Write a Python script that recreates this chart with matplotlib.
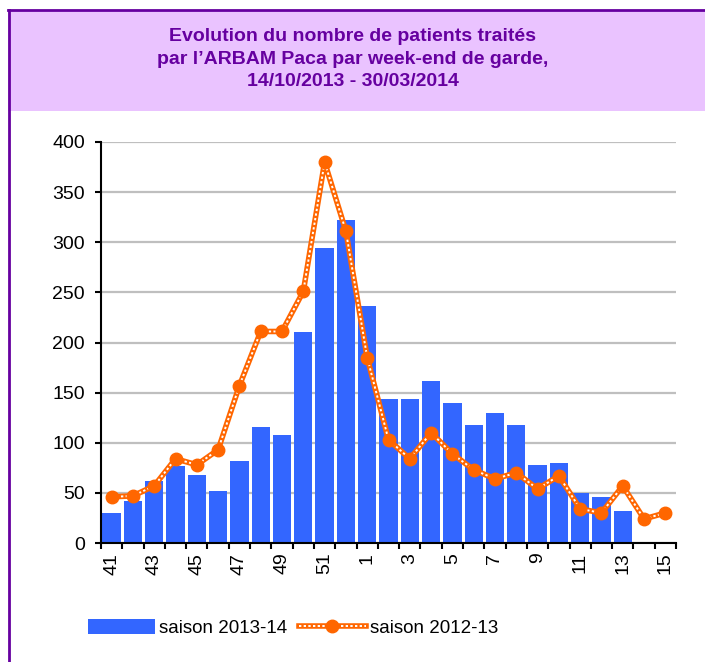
import matplotlib
matplotlib.use("Agg")
import matplotlib.pyplot as plt
import numpy as np
from matplotlib.lines import Line2D
from matplotlib.patches import Patch, Rectangle
from matplotlib.legend_handler import HandlerTuple

plt.rcParams["font.family"] = ["Liberation Sans", "DejaVu Sans"]

# semaines (41 -> 52, puis 1 -> 15)
weeks = [41, 42, 43, 44, 45, 46, 47, 48, 49, 50, 51, 52,
         1, 2, 3, 4, 5, 6, 7, 8, 9, 10, 11, 12, 13, 14, 15]
saison_2013_14 = [30, 42, 62, 77, 68, 52, 82, 116, 108, 210, 294, 322,
                  236, 144, 144, 162, 140, 118, 130, 118, 78, 80, 50, 46, 32,
                  np.nan, np.nan]
saison_2012_13 = [46, 47, 57, 84, 78, 93, 157, 211, 211, 251, 380, 311,
                  185, 103, 84, 110, 89, 73, 64, 70, 54, 67, 34, 30, 57, 24, 30]
yticks = [0, 50, 100, 150, 200, 250, 300, 350, 400]

BLUE = "#3366FF"
ORANGE = "#FF6600"
PURPLE = "#6600A0"
LAVENDER = "#EAC3FF"

fig = plt.figure(figsize=(7.05, 6.62), dpi=100)

# bandeau du titre + cadre violet
fig.patches.append(Rectangle((8 / 705, 1 - 111 / 662), 1, 101 / 662,
                             transform=fig.transFigure, facecolor=LAVENDER,
                             edgecolor="none", zorder=0))
fig.add_artist(Line2D([9 / 705, 9 / 705], [0, 1 - 10 / 662], transform=fig.transFigure,
                      color=PURPLE, lw=2))
fig.add_artist(Line2D([8 / 705, 1], [1 - 10 / 662, 1 - 10 / 662], transform=fig.transFigure,
                      color=PURPLE, lw=2))
fig.text(353 / 705, 1 - 59 / 662,
         "Evolution du nombre de patients traités\n"
         "par l\u2019ARBAM Paca par week-end de garde,\n"
         "14/10/2013 - 30/03/2014",
         ha="center", va="center", fontsize=14, fontweight="bold",
         color=PURPLE, linespacing=1.45)

ax = fig.add_axes([101 / 705, 1 - 543 / 662, 575 / 705, 401 / 662])
x = np.arange(len(weeks))

ax.bar(x, saison_2013_14, width=0.86, color=BLUE, zorder=2)
ax.plot(x, saison_2012_13, color=ORANGE, lw=4, zorder=3, solid_joinstyle="round")
ax.plot(x, saison_2012_13, color="white", lw=1.4, linestyle=(0, (1.2, 1.2)), zorder=4)
ax.plot(x, saison_2012_13, color=ORANGE, lw=0, marker="o", markersize=9, zorder=5)

ax.set_xlim(-0.5, len(weeks) - 0.5)
ax.set_ylim(0, 400)
ax.set_yticks(yticks)
ax.yaxis.grid(True, color="#BFBFBF", lw=1.6, zorder=0)
ax.set_axisbelow(True)
ax.tick_params(axis="y", labelsize=14, length=4.5, width=1.5, pad=7)

# graduations entre les catégories, étiquettes une semaine sur deux
ax.set_xticks(np.arange(len(weeks) + 1) - 0.5)
ax.set_xticklabels([])
ax.set_xticks(x[::2], minor=True)
ax.set_xticklabels([str(w) for w in weeks[::2]], minor=True, rotation=90, fontsize=14)
ax.tick_params(axis="x", which="major", length=4.5, width=1.5)
ax.tick_params(axis="x", which="minor", length=0, pad=7)

for side in ("top", "right"):
    ax.spines[side].set_visible(False)
ax.spines["left"].set_linewidth(1.5)
ax.spines["bottom"].set_linewidth(1.5)

h_bar = Patch(facecolor=BLUE, edgecolor="none")
h_line = (Line2D([], [], color=ORANGE, lw=4),
          Line2D([], [], color="white", lw=1.4, linestyle=(0, (1.2, 1.2))),
          Line2D([], [], color=ORANGE, lw=0, marker="o", markersize=9))
fig.legend([h_bar, h_line], ["saison 2013-14", "saison 2012-13"],
           handler_map={tuple: HandlerTuple(ndivide=1, pad=0)},
           loc="center left", bbox_to_anchor=(71 / 705, 1 - 628 / 662),
           ncol=2, frameon=False, fontsize=13.5, handlelength=3.6,
           handleheight=0.9, handletextpad=0.2, columnspacing=0.6)

fig.savefig("out.png", dpi=100)
